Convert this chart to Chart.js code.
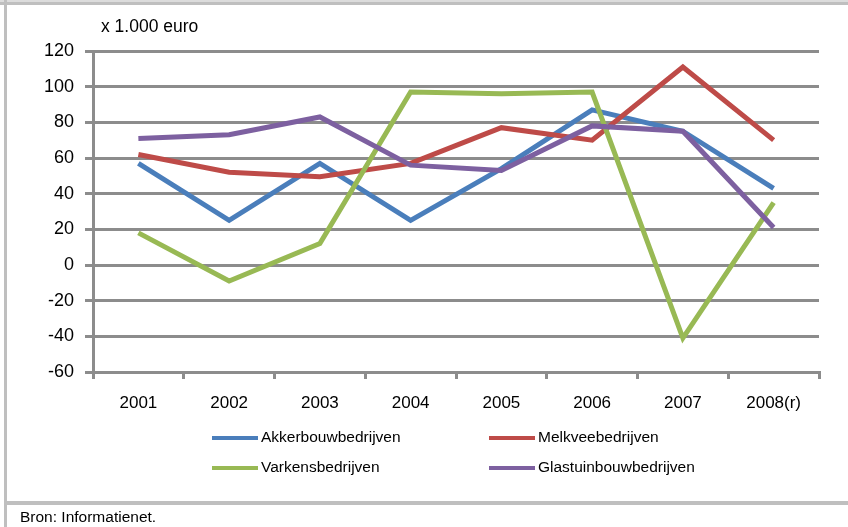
<!DOCTYPE html>
<html>
<head>
<meta charset="utf-8">
<script src="https://cdn.jsdelivr.net/npm/chart.js@4/dist/chart.umd.min.js"></script>
<style>
  html, body { margin: 0; padding: 0; background: #fff; }
  #wrap { position: relative; width: 848px; height: 527px; overflow: hidden; }
  #wrap canvas { position: absolute; left: 0; top: 0; }
  .edge { position: absolute; background: #bfbfbf; }
  #edgeTop { left: 0; top: 0; width: 848px; height: 5px; border-top: 2px solid #dcdcdc; box-sizing: border-box; }
  #edgeLeft { left: 4px; top: 0; width: 3px; height: 527px; }
  #edgeBottom { left: 4px; top: 501px; width: 844px; height: 4px; }
  #source { position: absolute; left: 20px; top: 508px; font: 15.5px "Liberation Sans", Arial, sans-serif; color: #000; }
</style>
</head>
<body>
<div id="wrap">
  <div class="edge" id="edgeTop"></div>
  <div class="edge" id="edgeLeft"></div>
  <div class="edge" id="edgeBottom"></div>
  <canvas id="chart" width="848" height="527"></canvas>
  <div id="source">Bron: Informatienet.</div>
</div>
<script>
// --- data (x 1.000 euro)
const years = ["2001", "2002", "2003", "2004", "2005", "2006", "2007", "2008(r)"];
const akkerbouw = [57, 25, 57, 25, 54, 87, 75, 43];
const melkvee = [62, 52, 49.5, 57, 77, 70, 111, 70];
const varkens = [18, -9, 12, 97, 96, 97, -41, 35];
const glastuinbouw = [71, 73, 83, 56, 53, 78, 75, 21];
const seriesNames = ["Akkerbouwbedrijven", "Melkveebedrijven", "Varkensbedrijven", "Glastuinbouwbedrijven"];
const axisTitle = "x 1.000 euro";

const FONT = '"Liberation Sans", Arial, sans-serif';
const GRID = "#8c8c8c";
const colors = ["#4a7ebb", "#be4b48", "#98b954", "#7d60a0"];

const mkSet = (label, data, i) => ({
  label, data,
  borderColor: colors[i],
  backgroundColor: colors[i],
  borderWidth: 5,
  pointRadius: 0,
  tension: 0,
  borderJoinStyle: "miter",
  borderCapStyle: "butt",
  order: 4 - i // later series on top, like excel
});

// legend in 2 kolommen + as-titel
const excelLegend = {
  id: "excelLegend",
  afterDraw(chart) {
    const ctx = chart.ctx;
    const colX = [212, 489];
    const rowY = [438, 468];
    ctx.save();
    chart.data.datasets.forEach((ds, i) => {
      const x = colX[i % 2], y = rowY[Math.floor(i / 2)];
      ctx.strokeStyle = ds.borderColor;
      ctx.lineWidth = 4;
      ctx.beginPath();
      ctx.moveTo(x, y);
      ctx.lineTo(x + 46, y);
      ctx.stroke();
      ctx.fillStyle = "#000";
      ctx.font = "15.5px " + FONT;
      ctx.textBaseline = "middle";
      ctx.fillText(ds.label, x + 49, y);
    });
    ctx.font = "17.5px " + FONT;
    ctx.textBaseline = "middle";
    ctx.fillText(axisTitle, chart.chartArea.left + 8, chart.chartArea.top - 24);
    ctx.restore();
  }
};

new Chart(document.getElementById("chart"), {
  type: "line",
  data: {
    labels: years,
    datasets: [akkerbouw, melkvee, varkens, glastuinbouw].map((d, i) => mkSet(seriesNames[i], d, i))
  },
  options: {
    responsive: false,
    animation: false,
    layout: { padding: { top: 51, right: 29, bottom: 0, left: 0 } },
    plugins: { legend: { display: false }, tooltip: { enabled: false } },
    scales: {
      x: {
        offset: true,
        grid: { offset: true, drawOnChartArea: false, color: GRID, lineWidth: 3, tickLength: 7 },
        border: { color: GRID, width: 3 },
        ticks: { color: "#000", font: { family: FONT, size: 17 }, padding: 14, maxRotation: 0 },
        afterFit: (s) => { s.height = 155; }
      },
      y: {
        min: -60, max: 120,
        grid: { color: GRID, lineWidth: 3, tickLength: 8 },
        border: { color: GRID, width: 3 },
        ticks: { stepSize: 20, color: "#000", font: { family: FONT, size: 18 }, padding: 11 },
        afterFit: (s) => { s.width = 93; }
      }
    }
  },
  plugins: [excelLegend]
});
</script>
</body>
</html>
